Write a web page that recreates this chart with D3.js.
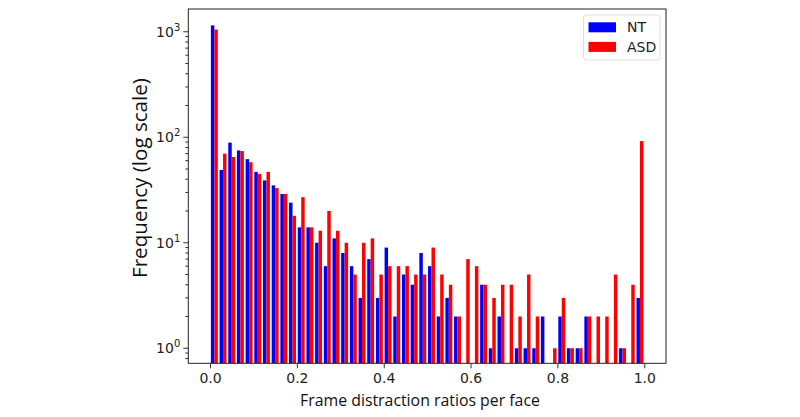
<!DOCTYPE html>
<html>
<head>
<meta charset="utf-8">
<script src="https://cdn.jsdelivr.net/npm/d3@7"></script>
<style>
  html, body { margin: 0; padding: 0; background: #fff; }
  svg { display: block; }
</style>
</head>
<body>
<svg id="chart" width="800" height="417"></svg>
<script>
// ---- data ----
const binStarts = d3.range(50).map(i => +(i * 0.02).toFixed(2));
const ntCounts = [1150, 49, 89, 75, 62, 47, 39, 35, 29, 24,
                  14, 14, 10, 6, 11, 8, 6, 3, 7, 3,
                  9, 2, 5, 4, 8, 6, 2, 3, 2, 0,
                  0, 4, 1, 2, 0, 1, 1, 1, 2, 0,
                  2, 1, 1, 2, 0, 0, 0, 1, 0, 3];
const asdCounts = [1050, 70, 65, 74, 58, 45, 47, 33, 29, 18,
                   27, 14, 13, 20, 13, 10, 5, 10, 11, 5,
                   6, 6, 6, 5, 5, 9, 5, 4, 2, 7,
                   6, 4, 3, 4, 4, 2, 5, 2, 0, 1,
                   3, 1, 1, 2, 2, 2, 5, 1, 4, 92];
const seriesNames = ["NT", "ASD"];
const seriesColors = ["#0000ff", "#ff0000"];
const xTicks = [0, 0.2, 0.4, 0.6, 0.8, 1.0];
const yTickExps = [0, 1, 2, 3];
const xLabel = "Frame distraction ratios per face";
const yLabel = "Frequency (log scale)";

// ---- layout ----
const svg = d3.select("#chart");
const plot = { left: 188.3, right: 666, top: 9, bottom: 363.3 };
const x = d3.scaleLinear().domain([-0.05, 1.05]).range([plot.left, plot.right]);
const y = d3.scaleLog().domain([0.72, 1644]).range([plot.bottom, plot.top]);
const binW = 0.02;

const tickFont = "'DejaVu Sans', sans-serif";
const labelFont = "'Open Sans', sans-serif";
const textColor = "#222";

// bars
const series = [ntCounts, asdCounts];
series.forEach((counts, si) => {
  svg.append("g").selectAll("rect")
    .data(counts.map((c, i) => ({ c, s: binStarts[i] })).filter(d => d.c > 0))
    .join("rect")
    .attr("x", d => x(d.s + binW * (0.1 + 0.4 * si)))
    .attr("width", d => x(d.s + binW * (0.5 + 0.4 * si)) - x(d.s + binW * (0.1 + 0.4 * si)))
    .attr("y", d => y(d.c))
    .attr("height", d => plot.bottom - y(d.c))
    .attr("fill", seriesColors[si]);
});

// x axis
const xAxis = d3.axisBottom(x).tickValues(xTicks).tickFormat(d3.format(".1f")).tickSize(5).tickPadding(5);
const gx = svg.append("g").attr("transform", `translate(0,${plot.bottom})`).call(xAxis);
gx.select(".domain").remove();
gx.selectAll("line").attr("stroke", "#333");
gx.selectAll("text").attr("font-family", tickFont).attr("font-size", 14).attr("fill", textColor);

// y axis major ticks
const gy = svg.append("g").attr("transform", `translate(${plot.left},0)`);
const majors = yTickExps.map(e => Math.pow(10, e));
gy.selectAll("line.major").data(majors).join("line")
  .attr("x1", -5).attr("x2", 0)
  .attr("y1", d => y(d)).attr("y2", d => y(d))
  .attr("stroke", "#333");
// minor ticks
const minors = [];
[-1, 0, 1, 2, 3].forEach(e => { for (let m = 2; m <= 9; m++) { const v = m * Math.pow(10, e); if (v >= 0.72 && v <= 1644) minors.push(v); } });
gy.selectAll("line.minor").data(minors).join("line")
  .attr("x1", -3).attr("x2", 0)
  .attr("y1", d => y(d)).attr("y2", d => y(d))
  .attr("stroke", "#333");
// labels 10^e
const yl = gy.selectAll("text.ytl").data(yTickExps).join("text")
  .attr("class", "ytl")
  .attr("x", -8).attr("y", d => y(Math.pow(10, d)) + 5)
  .attr("text-anchor", "end")
  .attr("font-family", tickFont).attr("font-size", 14).attr("fill", textColor);
yl.append("tspan").text("10");
yl.append("tspan").attr("dy", -6).attr("font-size", 10).text(d => d);

// spines
svg.append("rect")
  .attr("x", plot.left).attr("y", plot.top)
  .attr("width", plot.right - plot.left).attr("height", plot.bottom - plot.top)
  .attr("fill", "none").attr("stroke", "#222").attr("stroke-width", 1);

// axis labels
function fitText(sel, target) {
  const w = sel.node().getComputedTextLength();
  const fs = parseFloat(sel.attr("font-size"));
  sel.attr("font-size", fs * target / w);
}
const xl = svg.append("text")
  .attr("x", 420).attr("y", 406)
  .attr("text-anchor", "middle")
  .attr("font-family", labelFont).attr("font-size", 16).attr("fill", "#111")
  .text(xLabel);
fitText(xl, 240);
const ylab = svg.append("text")
  .attr("transform", `translate(147,178) rotate(-90)`)
  .attr("text-anchor", "middle")
  .attr("font-family", labelFont).attr("font-size", 16).attr("fill", "#111")
  .text(yLabel);
fitText(ylab, 200);

// legend
const lg = svg.append("g");
lg.append("rect").attr("x", 583.5).attr("y", 15).attr("width", 76.5).attr("height", 45)
  .attr("rx", 3).attr("fill", "#fff").attr("stroke", "#ddd");
seriesNames.forEach((name, i) => {
  lg.append("rect").attr("x", 588.5).attr("y", 22.3 + i * 19.6).attr("width", 27.5).attr("height", 10)
    .attr("fill", seriesColors[i]);
  lg.append("text").attr("x", 627).attr("y", 27.3 + i * 19.6 + 5)
    .attr("font-family", tickFont).attr("font-size", 14).attr("fill", textColor)
    .text(name);
});
</script>
</body>
</html>
